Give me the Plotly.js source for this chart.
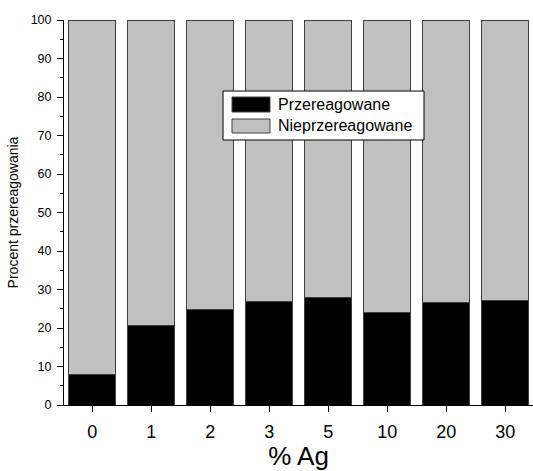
<!DOCTYPE html>
<html>
<head>
<meta charset="utf-8">
<script src="https://cdn.plot.ly/plotly-3.0.1.min.js"></script>
<style>html,body{margin:0;padding:0;background:#fff;}#chart{width:533px;height:471px;}</style>
</head>
<body>
<div id="chart"></div>
<script>
const categories = ["0", "1", "2", "3", "5", "10", "20", "30"];
const reacted = [7.8, 20.6, 24.9, 27.0, 27.8, 24.0, 26.6, 27.1];
const unreacted = [92.2, 79.4, 75.1, 73.0, 72.2, 76.0, 73.4, 72.9];
const seriesNames = ["Przereagowane", "Nieprzereagowane"];
const seriesColors = ["#000000", "#c0c0c0"];

const W = 533, H = 471;
const M = {l: 64, r: 0, t: 20, b: 66};
const pw = W - M.l - M.r, ph = H - M.t - M.b;
// pixel -> paper helpers (layout only)
const px = v => (v - M.l) / pw;
const py = v => (H - M.b - v) / ph;

const traces = seriesNames.map((n, i) => ({
  type: "bar", x: categories, y: i === 0 ? reacted : unreacted, name: n,
  marker: {color: seriesColors[i], line: {color: "#404040", width: 1}}, width: 0.8,
  showlegend: false
}));

// custom legend box (wide swatches as in the reference)
const shapes = [
  {type: "rect", xref: "paper", yref: "paper", x0: px(223), x1: px(424), y0: py(140), y1: py(91),
   line: {color: "#000", width: 1}, fillcolor: "#fff", layer: "above"},
  {type: "rect", xref: "paper", yref: "paper", x0: px(232), x1: px(270), y0: py(112), y1: py(97),
   line: {color: "#404040", width: 1}, fillcolor: seriesColors[0], layer: "above"},
  {type: "rect", xref: "paper", yref: "paper", x0: px(232), x1: px(270), y0: py(133), y1: py(119),
   line: {color: "#404040", width: 1}, fillcolor: seriesColors[1], layer: "above"}
];
const annotations = seriesNames.map((n, i) => ({
  xref: "paper", yref: "paper", x: px(276), y: py(i === 0 ? 104.5 : 126), xanchor: "left", yanchor: "middle",
  text: n, showarrow: false, font: {size: 16, color: "#000", family: "Liberation Sans, Arial, sans-serif"}
}));

const layout = {
  width: W, height: H,
  barmode: "stack",
  margin: M,
  paper_bgcolor: "#ffffff", plot_bgcolor: "#ffffff",
  font: {family: "Liberation Sans, Arial, sans-serif", color: "#000"},
  showlegend: false,
  shapes: shapes,
  annotations: annotations,
  xaxis: {type: "category", range: [-0.48, 7.47], showline: true, linecolor: "#000", linewidth: 1,
    ticks: "outside", ticklen: 6, tickcolor: "#000", showgrid: false, zeroline: false,
    tickfont: {size: 18}, ticklabelstandoff: 4,
    title: {text: "% Ag", font: {size: 26}, standoff: 2}},
  yaxis: {range: [0, 100], dtick: 10, showline: true, linecolor: "#000", linewidth: 1,
    ticks: "outside", ticklen: 6, tickcolor: "#000", showgrid: false, zeroline: false,
    tickfont: {size: 12.5}, ticklabelstandoff: 3,
    minor: {dtick: 5, ticks: "outside", ticklen: 3, tickwidth: 1, tickcolor: "#000", showgrid: false},
    title: {text: "Procent przereagowania", font: {size: 14}, standoff: 8}}
};

Plotly.newPlot("chart", traces, layout, {displayModeBar: false, staticPlot: true});
</script>
</body>
</html>
